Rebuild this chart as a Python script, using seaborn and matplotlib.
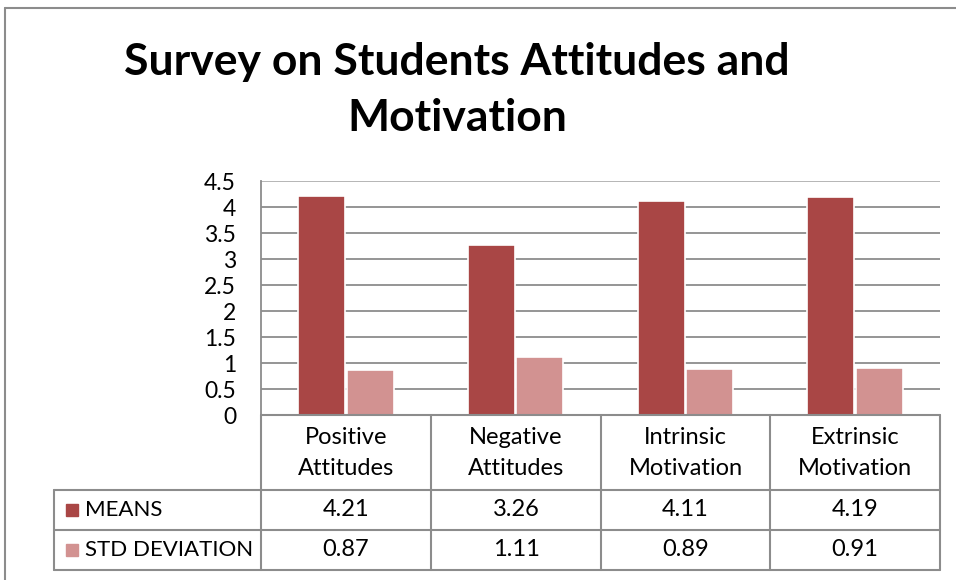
import matplotlib
matplotlib.use("Agg")
import matplotlib.pyplot as plt
import seaborn as sns
import pandas as pd
from matplotlib.lines import Line2D
from matplotlib.patches import Rectangle

categories = ["Positive\nAttitudes", "Negative\nAttitudes", "Intrinsic\nMotivation", "Extrinsic\nMotivation"]
series_names = ["MEANS", "STD DEVIATION"]
means = [4.21, 3.26, 4.11, 4.19]
std_dev = [0.87, 1.11, 0.89, 0.91]
yticks = [0, 0.5, 1, 1.5, 2, 2.5, 3, 3.5, 4, 4.5]
colors = ["#A94645", "#D29291"]

df = pd.DataFrame({
    "category": categories * 2,
    "series": [series_names[0]] * 4 + [series_names[1]] * 4,
    "value": means + std_dev,
})

sns.set_theme(style="white")
plt.rcParams["font.family"] = ["Lato", "DejaVu Sans"]
plt.rcParams["text.color"] = "black"

W, H = 956, 580
fig = plt.figure(figsize=(W / 100, H / 100), dpi=100)

def fx(x):
    return x / W

def fy(y):
    return 1 - y / H

L, R, T, B = 261, 940, 181, 415
ax = fig.add_axes([fx(L), fy(B), fx(R) - fx(L), fy(T) - fy(B)])
sns.barplot(data=df, x="category", y="value", hue="series", order=categories,
            hue_order=series_names, palette=colors, saturation=1, width=0.57, gap=0.03,
            edgecolor="white", linewidth=1.2, ax=ax, legend=False, zorder=3)
ax.set_ylim(0, 4.5)
ax.set_xlim(-0.5, 3.5)
ax.set_yticks(yticks)
ax.set_yticklabels([f"{t:g}" for t in yticks], fontsize=16.5, color="black")
ax.tick_params(axis="y", length=0, pad=18)
ax.tick_params(axis="x", length=0, labelbottom=False)
ax.set_xlabel("")
ax.set_ylabel("")
for t in yticks[1:]:
    ax.axhline(t, color="#8c8c8c" if t < 4.5 else "#b0b0b0", linewidth=1.3, zorder=1)
for s in ["top", "right", "bottom"]:
    ax.spines[s].set_visible(False)
ax.spines["left"].set_color("#8c8c8c")
ax.spines["left"].set_linewidth(1.3)

line_kw = dict(color="#8c8c8c", linewidth=1.5, transform=fig.transFigure)

def hline(y, x0, x1):
    fig.add_artist(Line2D([fx(x0), fx(x1)], [fy(y), fy(y)], **line_kw))

def vline(x, y0, y1):
    fig.add_artist(Line2D([fx(x), fx(x)], [fy(y0), fy(y1)], **line_kw))

# outer chart border
hline(8, 5, W)
vline(5, 8, H)

# data table
cols = [261, 431, 601, 770, 940]
hline(415, 261, 940)
for y in [490, 530, 570]:
    hline(y, 54, 940)
for x in cols:
    vline(x, 415, 570)
vline(54, 490, 570)

for i, cat in enumerate(categories):
    cx = (cols[i] + cols[i + 1]) / 2
    fig.text(fx(cx), fy(453), cat, ha="center", va="center", fontsize=17,
             linespacing=1.55, color="black")
    fig.text(fx(cx), fy(510), f"{means[i]:.2f}", ha="center", va="center", fontsize=17)
    fig.text(fx(cx), fy(550), f"{std_dev[i]:.2f}", ha="center", va="center", fontsize=17)

for j, (name, yc) in enumerate(zip(series_names, [510, 550])):
    fig.add_artist(Rectangle((fx(66), fy(yc + 6)), fx(12), 12 / H, color=colors[j],
                             transform=fig.transFigure))
    fig.text(fx(85), fy(yc), name, ha="left", va="center", fontsize=16)

fig.text(fx(457), fy(62), "Survey on Students Attitudes and", ha="center", va="center",
         fontsize=32, fontweight="bold", color="black")
fig.text(fx(457), fy(118), "Motivation", ha="center", va="center",
         fontsize=32, fontweight="bold", color="black")

fig.savefig("out.png", dpi=100, facecolor="white")
